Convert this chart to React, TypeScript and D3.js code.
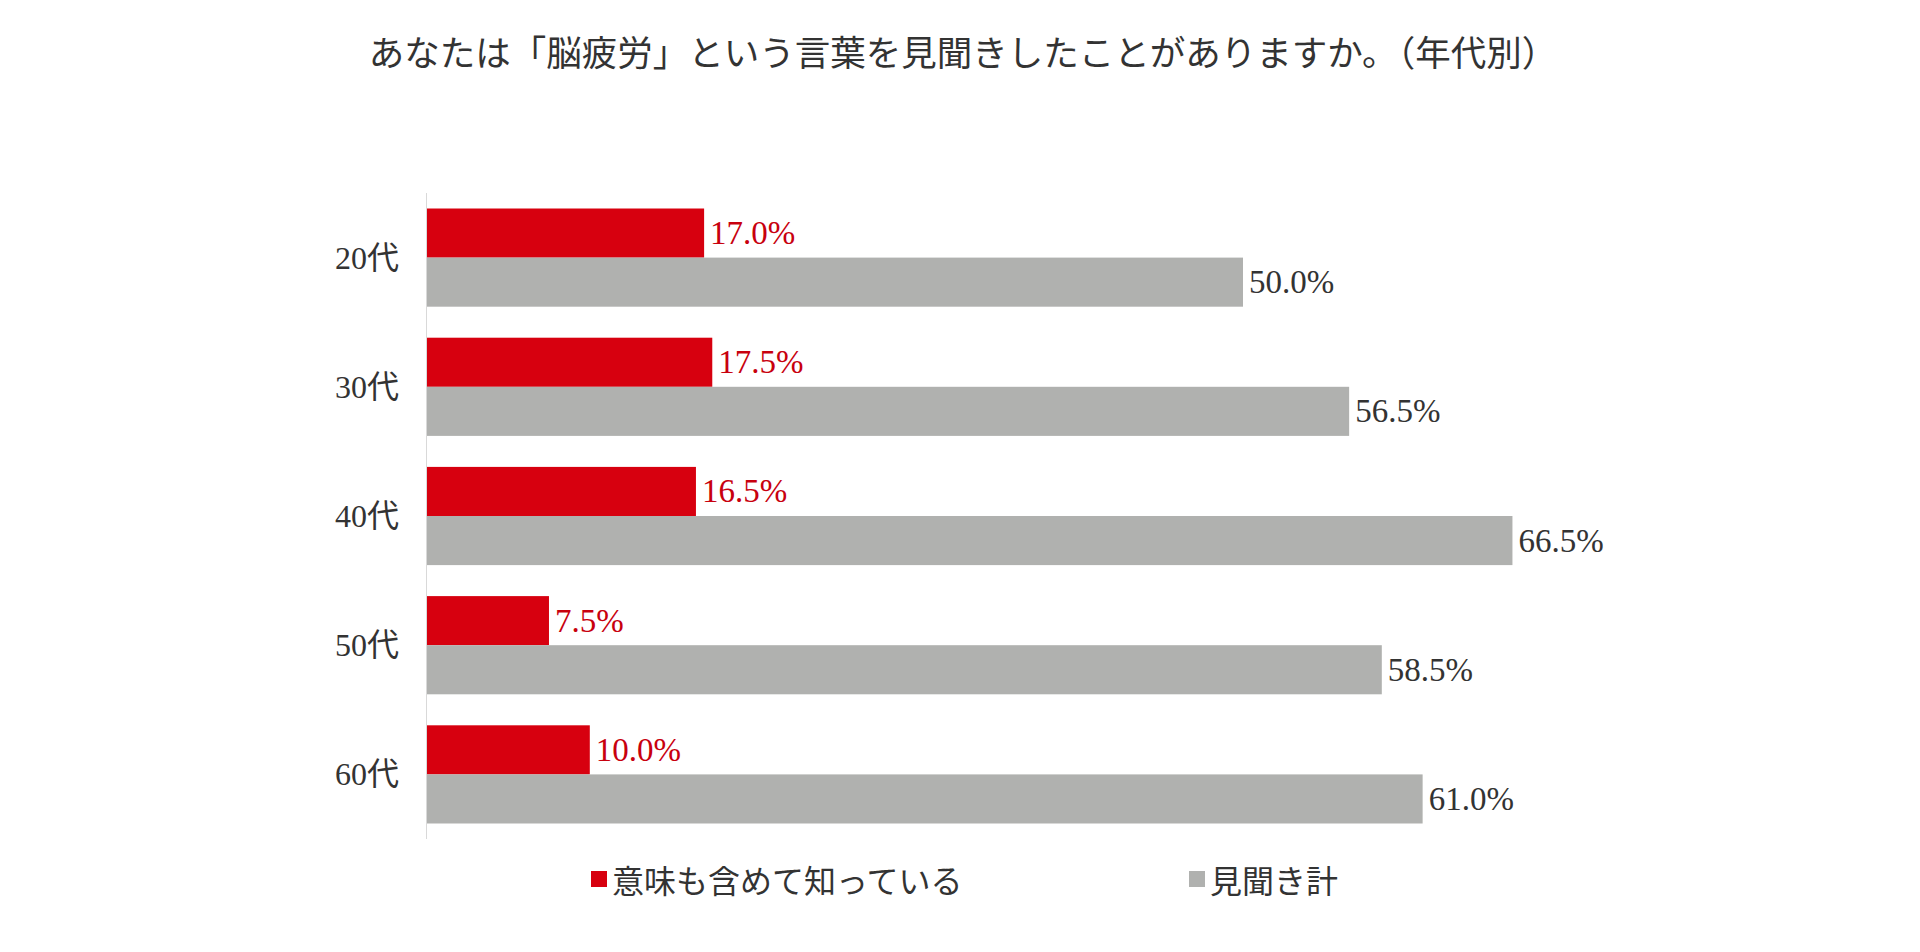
import { scaleBand, scaleLinear } from 'd3';

// ============================================
// DATA
// ============================================

const categories = ['20代', '30代', '40代', '50代', '60代'];
const knowValues = [17.0, 17.5, 16.5, 7.5, 10.0];
const heardValues = [50.0, 56.5, 66.5, 58.5, 61.0];
const seriesNames = ['意味も含めて知っている', '見聞き計'];
const title = 'あなたは「脳疲労」という言葉を見聞きしたことがありますか。（年代別）';

// ============================================
// STYLE
// ============================================

const WIDTH = 1920;
const HEIGHT = 952;
const RED = '#d7000f';
const GRAY = '#b0b1af';
const RED_TEXT = '#c8000e';
const DARK_TEXT = '#333333';
const JP_FONT = "'Noto Sans CJK JP', 'Noto Sans', sans-serif";
const NUM_FONT = "'Liberation Serif', 'Noto Sans CJK JP', serif";

const plot = { left: 426.5, top: 193, bottom: 839 };

export default function App() {
  const y = scaleBand<string>()
    .domain(categories)
    .range([plot.top, plot.bottom])
    .paddingInner(0.24)
    .paddingOuter(0.12);

  const inner = scaleBand<string>()
    .domain(['know', 'heard'])
    .range([0, y.bandwidth()]);

  const x = scaleLinear().domain([0, 100]).range([plot.left, plot.left + 1633]);

  const series = [
    { key: 'know', values: knowValues, color: RED, textColor: RED_TEXT },
    { key: 'heard', values: heardValues, color: GRAY, textColor: DARK_TEXT },
  ];

  return (
    <svg
      width={WIDTH}
      height={HEIGHT}
      style={{ position: 'absolute', left: 0, top: 0, display: 'block', background: '#fff' }}
    >
      {/* Title */}
      <text
        x={963}
        y={50}
        textAnchor="middle"
        dominantBaseline="central"
        fontFamily={JP_FONT}
        fontSize={35.5}
        fill={DARK_TEXT}
      >
        {title}
      </text>

      {/* Bars + labels */}
      {series.map((s) =>
        categories.map((c, i) => {
          const y0 = (y(c) || 0) + (inner(s.key) || 0);
          const h = inner.bandwidth();
          const v = s.values[i];
          return (
            <g key={`${s.key}-${c}`}>
              <rect x={x(0)} y={y0} width={x(v) - x(0)} height={h} fill={s.color} />
              <text
                x={x(v) + 6}
                y={y0 + h / 2}
                dominantBaseline="central"
                fontFamily={NUM_FONT}
                fontSize={33}
                fill={s.textColor}
              >
                {v.toFixed(1)}%
              </text>
            </g>
          );
        })
      )}

      {/* Category axis line */}
      <line x1={plot.left} x2={plot.left} y1={plot.top} y2={plot.bottom} stroke="#d9d9d9" strokeWidth={1} />

      {/* Category labels */}
      {categories.map((c) => (
        <text
          key={c}
          x={399}
          y={(y(c) || 0) + y.bandwidth() / 2}
          textAnchor="end"
          dominantBaseline="central"
          fontFamily={NUM_FONT}
          fontSize={32}
          fill={DARK_TEXT}
        >
          {c}
        </text>
      ))}

      {/* Legend */}
      {seriesNames.map((name, i) => {
        const lx = [591, 1189][i];
        return (
          <g key={name}>
            <rect x={lx} y={871} width={16} height={16} fill={series[i].color} />
            <text
              x={lx + 21}
              y={879}
              dominantBaseline="central"
              fontFamily={JP_FONT}
              fontSize={32}
              fill={DARK_TEXT}
            >
              {name}
            </text>
          </g>
        );
      })}
    </svg>
  );
}
